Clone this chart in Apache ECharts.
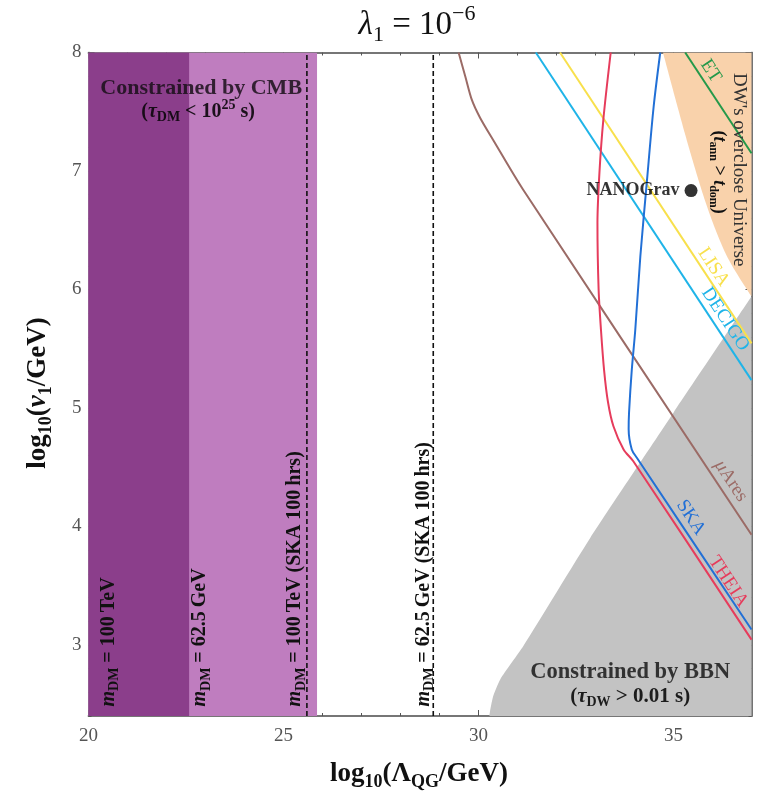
<!DOCTYPE html>
<html>
<head>
<meta charset="utf-8">
<title>λ1 = 10^-6 parameter space</title>
<script src="https://cdn.jsdelivr.net/npm/echarts@6.0.0/dist/echarts.min.js"></script>
<style>
  html, body { margin: 0; padding: 0; background: #ffffff; }
  #chart { width: 763px; height: 808px; }
</style>
</head>
<body>
<div id="chart"></div>
<script>
// ---- axis ranges and tick labels -------------------------------------
const xMin = 20, xMax = 37;
const yMin = 2.4, yMax = 8;
const xTickLabels = [20, 25, 30, 35];
const yTickLabels = [3, 4, 5, 6, 7, 8];
const xMinorTicks = [21, 22, 23, 24, 26, 27, 28, 29, 31, 32, 33, 34, 36];

// ---- CMB-excluded bands and SKA reach, in log10(Λ_QG/GeV) -------------
const band100TeV = [20, 22.58];
const band62GeV = [20, 25.86];
const ska100TeV = 25.6;
const ska62GeV = 28.84;

// ---- shaded regions ----------------------------------------------------
const overcloseX = [34.73, 35.34, 35.86, 36.37, 37.0];
const overcloseY = [8.0, 7.26, 6.70, 6.28, 5.94];
const bbnX = [30.28, 30.30, 30.38, 30.56, 31.15, 32.86, 35.00, 37.0];
const bbnY = [2.40, 2.45, 2.57, 2.71, 2.99, 3.90, 4.96, 5.94];

// ---- GW detector sensitivity curves --------------------------------------
const etX = [35.30, 37.0];
const etY = [8.0, 7.15];
const lisaX = [32.09, 37.0];
const lisaY = [8.0, 5.545];
const decigoX = [31.47, 37.0];
const decigoY = [8.0, 5.235];
const muAresX = [29.49, 29.66, 29.83, 30.04, 30.38, 31.15, 37.0];
const muAresY = [8.0, 7.80, 7.60, 7.45, 7.26, 6.84, 3.93];
const theiaX = [33.39, 33.20, 33.10, 33.05, 33.08, 33.14, 33.22, 33.32, 33.46, 33.72, 33.97, 37.0];
const theiaY = [8.0, 7.43, 6.98, 6.56, 6.00, 5.66, 5.32, 5.05, 4.845, 4.65, 4.55, 3.045];
const skaX = [34.66, 34.49, 34.32, 34.15, 34.02, 33.93, 33.86, 33.85, 33.93, 34.06, 37.0];
const skaY = [8.0, 7.54, 6.92, 6.28, 5.66, 5.32, 4.96, 4.82, 4.65, 4.58, 3.13];

// ---- NANOGrav benchmark point ---------------------------------------------
const nanogravX = [35.45];
const nanogravY = [6.835];

// ---- styling ----------------------------------------------------------------
const serif = "'Liberation Serif', 'Times New Roman', serif";
const frameColor = '#6e6e6e';
const tickColor = '#555555';
const colors = {
  darkPurple: '#8b3e8b',
  lightPurple: '#bf7dbf',
  peach: '#f9d2ab',
  gray: '#c3c3c3',
  brown: '#9b6b66',
  cyan: '#1fb4e8',
  yellow: '#f8e04c',
  red: '#e63c5c',
  blue: '#2270d6',
  green: '#25994a'
};

// rich-text style set: n normal, i italic, sb subscript, sp superscript
function richSet(size, color, weight) {
  const base = { fill: color, fontFamily: serif, fontWeight: weight || 'normal', fontSize: size, lineHeight: Math.round(size * 1.3) };
  const small = Math.round(size * 0.68);
  return {
    n: base,
    i: Object.assign({}, base, { fontStyle: 'italic' }),
    sb: Object.assign({}, base, { fontSize: small, lineHeight: small, verticalAlign: 'bottom' }),
    sp: Object.assign({}, base, { fontSize: small, lineHeight: small, verticalAlign: 'top' })
  };
}

const pairs = (xs, ys) => xs.map((x, i) => [x, ys[i]]);

// text annotations anchored in data coordinates
// along: slope (dy/dx in data units) the text follows, lift: px off that line
// rotate: fixed angle in degrees
const annotations = [
  { at: [35.89, 7.83], along: -0.5, lift: 3, text: '{n|ET}', rich: richSet(19, colors.green) },
  { at: [35.94, 6.17], along: -0.5, lift: 4, text: '{n|LISA}', rich: richSet(19, colors.yellow) },
  { at: [36.24, 5.73], along: -0.5, lift: 4, text: '{n|DECIGO}', rich: richSet(19, colors.cyan) },
  { at: [36.41, 4.37], along: -0.5, lift: 3, text: '{i|μ}{n|Ares}', rich: richSet(19, colors.brown) },
  { at: [35.38, 4.06], along: -0.5, lift: 3, text: '{n|SKA}', rich: richSet(19, colors.blue) },
  { at: [36.34, 3.52], along: -0.5, lift: 3, text: '{n|THEIA}', rich: richSet(19, colors.red) },
  { at: [36.68, 7.01], rotate: -90, text: "{n|DW's overclose Universe}", rich: richSet(19, '#333333') },
  { at: [36.15, 6.99], rotate: -90, text: '{n|(}{i|t}{sb|ann}{n| > }{i|t}{sb|dom}{n|)}', rich: richSet(18, '#111111', 'bold') },
  { at: [22.89, 7.70], text: '{n|Constrained by CMB}', rich: richSet(22, 'rgba(25,15,25,0.85)', 'bold') },
  { at: [22.81, 7.50], text: '{n|(}{i|τ}{sb|DM}{n| < 10}{sp|25}{n| s)}', rich: richSet(20, 'rgba(10,5,10,0.9)', 'bold') },
  { at: [33.89, 2.77], text: '{n|Constrained by BBN}', rich: richSet(22.5, 'rgba(25,25,25,0.85)', 'bold') },
  { at: [33.89, 2.566], text: '{n|(}{i|τ}{sb|DW}{n| > 0.01 s)}', rich: richSet(21, 'rgba(10,10,10,0.9)', 'bold') },
  { at: [20.51, 2.48], rotate: 90, align: 'left', text: '{i|m}{sb|DM}{n| = 100\u2009TeV}', rich: richSet(20, '#111111', 'bold') },
  { at: [22.86, 2.48], rotate: 90, align: 'left', text: '{i|m}{sb|DM}{n| = 62.5\u2009GeV}', rich: richSet(20, '#111111', 'bold') },
  { at: [25.30, 2.48], rotate: 90, align: 'left', text: '{i|m}{sb|DM}{n| = 100\u2009TeV (SKA 100\u2009hrs)}', rich: richSet(20, '#111111', 'bold') },
  { at: [28.59, 2.48], rotate: 90, align: 'left', text: '{i|m}{sb|DM}{n| = 62.5\u2009GeV (SKA 100\u2009hrs)}', rich: richSet(20, '#111111', 'bold') }
];

function bandSeries(band, color, z) {
  return {
    type: 'line', silent: true, symbol: 'none', z: z,
    data: band.map(x => [x, yMax]),
    lineStyle: { width: 0 },
    areaStyle: { color: color, opacity: 1, origin: 'start' }
  };
}

function curveSeries(name, xs, ys, color, smooth) {
  return {
    type: 'line', name: name, silent: true, symbol: 'none', z: 5,
    data: pairs(xs, ys),
    smooth: smooth || false,
    lineStyle: { color: color, width: 2 }
  };
}

function dashedSeries(x) {
  return {
    type: 'line', silent: true, symbol: 'none', z: 4,
    data: [[x, yMin], [x, yMax]],
    lineStyle: { color: '#111111', width: 1.6, type: [5, 3] }
  };
}

const axisCommon = { type: 'value', splitLine: { show: false } };

function xAxisDef(position, minor, showLabel) {
  return Object.assign({}, axisCommon, {
    position: position, min: xMin, max: xMax,
    axisLine: { show: true, onZero: false, lineStyle: { color: frameColor, width: 1.6 } },
    axisTick: {
      show: true, inside: true, length: minor ? 3 : 6,
      customValues: minor ? xMinorTicks : xTickLabels,
      lineStyle: { color: tickColor, width: 1 }
    },
    axisLabel: showLabel ? {
      show: true, margin: 11, color: '#555555', fontFamily: serif, fontSize: 19,
      customValues: xTickLabels, formatter: v => String(Math.round(v))
    } : { show: false }
  });
}

// minor y ticks every 0.2 between the labelled integers
function yMinorList() {
  const list = [];
  for (let k = 12; k <= 40; k++) {
    if (k % 5 !== 0) list.push(+(k * 0.2).toFixed(1));
  }
  return list;
}

function yAxisDef(position, minor, showLabel) {
  return Object.assign({}, axisCommon, {
    position: position, min: yMin, max: yMax,
    axisLine: { show: true, onZero: false, lineStyle: { color: frameColor, width: 1.6 } },
    axisTick: {
      show: true, inside: true, length: minor ? 3 : 6,
      customValues: minor ? yMinorList() : yTickLabels,
      lineStyle: { color: tickColor, width: 1 }
    },
    axisLabel: showLabel ? {
      show: true, margin: 7, color: '#555555', fontFamily: serif, fontSize: 19,
      customValues: yTickLabels, formatter: v => String(Math.round(v))
    } : { show: false }
  });
}

const chart = echarts.init(document.getElementById('chart'), null, { renderer: 'canvas' });

const titleRich = richSet(33, '#111111');
const xNameRich = richSet(27, '#111111', 'bold');
const yNameRich = richSet(27, '#111111', 'bold');

chart.setOption({
  animation: false,
  backgroundColor: '#ffffff',
  grid: { left: 88.5, right: 11.5, top: 52.5, bottom: 92, containLabel: false },
  xAxis: [
    xAxisDef('bottom', true, false),
    xAxisDef('bottom', false, true),
    xAxisDef('top', true, false),
    xAxisDef('top', false, false)
  ],
  yAxis: [
    yAxisDef('left', true, false),
    yAxisDef('left', false, true),
    yAxisDef('right', true, false),
    yAxisDef('right', false, false)
  ],
  graphic: [
    { type: 'text', x: 417, y: 25, z: 100,
      style: { text: '{i|λ}{sb|1}{n| = 10}{sp|−6}', rich: titleRich, align: 'center', verticalAlign: 'middle' } },
    { type: 'text', x: 419, y: 774, z: 100,
      style: { text: '{n|log}{sb|10}{n|(Λ}{sb|QG}{n|/GeV)}', rich: xNameRich, align: 'center', verticalAlign: 'middle' } },
    { type: 'text', x: 38, y: 393, rotation: Math.PI / 2, z: 100,
      style: { text: '{n|log}{sb|10}{n|(}{i|v}{sb|1}{n|/GeV)}', rich: yNameRich, align: 'center', verticalAlign: 'middle' } }
  ],
  series: [
    bandSeries(band62GeV, colors.lightPurple, 1),
    bandSeries(band100TeV, colors.darkPurple, 2),
    {
      type: 'line', name: "DW's overclose Universe", silent: true, symbol: 'none', z: 1,
      data: pairs(overcloseX, overcloseY), smooth: 0.3,
      lineStyle: { width: 0 },
      areaStyle: { color: colors.peach, opacity: 1, origin: 'end' }
    },
    {
      type: 'line', name: 'BBN', silent: true, symbol: 'none', z: 2,
      data: pairs(bbnX, bbnY), smooth: 0.2,
      lineStyle: { width: 0 },
      areaStyle: { color: colors.gray, opacity: 1, origin: 'start' }
    },
    dashedSeries(ska100TeV),
    dashedSeries(ska62GeV),
    curveSeries('μAres', muAresX, muAresY, colors.brown, 0.3),
    curveSeries('DECIGO', decigoX, decigoY, colors.cyan),
    curveSeries('LISA', lisaX, lisaY, colors.yellow),
    curveSeries('ET', etX, etY, colors.green),
    curveSeries('THEIA', theiaX, theiaY, colors.red, 0.3),
    curveSeries('SKA', skaX, skaY, colors.blue, 0.3),
    {
      type: 'scatter', name: 'NANOGrav', silent: true, z: 8,
      data: pairs(nanogravX, nanogravY),
      symbol: 'circle', symbolSize: 13,
      itemStyle: { color: '#000000' },
      label: {
        show: true, position: 'left', distance: 5, formatter: 'NANOGrav',
        color: '#000000', fontFamily: serif, fontWeight: 'bold', fontSize: 18
      }
    },
    {
      type: 'custom', name: 'annotations', silent: true, z: 9, clip: false,
      data: annotations.map(a => a.at),
      renderItem: function (params, api) {
        const a = annotations[params.dataIndex];
        let p = api.coord(a.at);
        let rot = 0;
        if (a.along !== undefined) {
          const q = api.coord([a.at[0] + 1, a.at[1] + a.along]);
          const ang = Math.atan2(q[1] - p[1], q[0] - p[0]);
          const lift = a.lift || 0;
          p = [p[0] + lift * Math.sin(ang), p[1] - lift * Math.cos(ang)];
          rot = -ang;
        } else if (a.rotate) {
          rot = a.rotate * Math.PI / 180;
        }
        return {
          type: 'text', x: p[0], y: p[1], rotation: rot,
          style: { text: a.text, rich: a.rich, align: a.align || 'center', verticalAlign: 'middle' }
        };
      }
    }
  ]
});
</script>
</body>
</html>
